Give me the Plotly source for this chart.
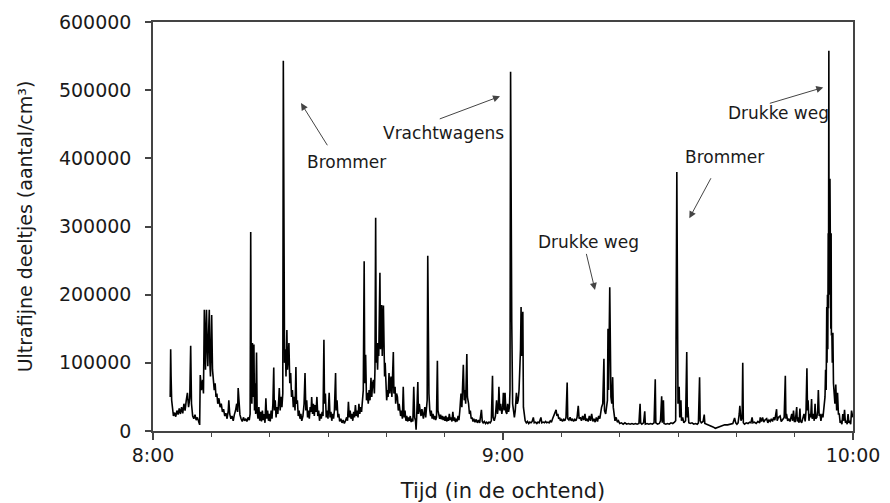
import plotly.graph_objects as go

# Ultrafine particle counts (thousands / cm3) by minute after 8:00, per 10-minute window
seg_0800 = [(2.95, 50), (3.03, 120), (3.1, 80), (3.2, 45), (3.35, 25), (3.5, 22), (3.7, 27), (3.9, 21),
            (4.1, 30), (4.3, 24), (4.5, 33), (4.7, 25), (4.9, 35), (5.1, 26), (5.3, 40), (5.5, 30),
            (5.7, 45), (5.9, 56), (6.1, 35), (6.3, 48), (6.46, 125), (6.6, 40), (6.8, 22), (7.0, 18),
            (7.2, 24), (7.4, 16), (7.6, 20), (7.8, 14), (8.0, 9), (8.1, 82), (8.3, 60), (8.5, 75),
            (8.65, 55), (8.8, 178), (8.9, 134), (9.0, 90), (9.1, 150), (9.17, 178), (9.3, 120),
            (9.4, 95), (9.5, 134), (9.65, 178), (9.75, 100), (9.85, 80), (9.95, 120)]
seg_0810 = [(10.06, 170), (10.2, 90), (10.35, 75), (10.5, 60), (10.65, 70), (10.8, 50), (10.95, 55),
            (11.1, 40), (11.3, 48), (11.5, 35), (11.7, 40), (11.9, 28), (12.1, 32), (12.3, 22),
            (12.5, 26), (12.7, 18), (12.9, 30), (13.0, 45), (13.15, 25), (13.35, 18), (13.55, 22),
            (13.75, 15), (13.95, 24), (14.15, 30), (14.35, 40), (14.5, 28), (14.6, 63), (14.75, 35),
            (14.9, 24), (15.1, 18), (15.3, 14), (15.5, 20), (15.7, 15), (15.9, 18), (16.1, 14),
            (16.3, 20), (16.5, 16), (16.65, 25), (16.75, 292), (16.85, 60), (16.95, 40), (17.05, 129),
            (17.15, 50), (17.3, 127), (17.4, 30), (17.5, 70), (17.6, 25), (17.75, 115), (17.85, 30),
            (18.0, 18), (18.15, 35), (18.3, 15), (18.45, 28), (18.6, 14), (18.75, 30), (18.9, 16),
            (19.05, 25), (19.2, 12), (19.35, 48), (19.5, 18), (19.65, 30), (19.8, 15), (19.95, 25)]
seg_0820 = [(20.1, 14), (20.25, 30), (20.4, 18), (20.55, 40), (20.7, 93), (20.8, 30), (20.95, 45),
            (21.1, 20), (21.25, 35), (21.4, 25), (21.55, 45), (21.65, 63), (21.8, 30), (21.95, 50),
            (22.1, 35), (22.25, 55), (22.34, 543), (22.42, 141), (22.55, 100), (22.7, 120), (22.8, 80),
            (22.95, 148), (23.05, 90), (23.2, 110), (23.3, 129), (23.45, 70), (23.6, 85), (23.75, 50),
            (23.9, 60), (24.05, 35), (24.2, 50), (24.35, 30), (24.5, 94), (24.6, 40), (24.75, 45),
            (24.9, 22), (25.05, 30), (25.2, 18), (25.35, 25), (25.5, 15), (25.7, 22), (25.9, 40),
            (26.06, 85), (26.2, 30), (26.35, 45), (26.5, 20), (26.65, 30), (26.8, 18), (26.95, 35),
            (27.1, 28), (27.2, 50), (27.35, 25), (27.5, 40), (27.65, 22), (27.8, 38), (27.95, 28),
            (28.1, 50), (28.25, 22), (28.4, 30), (28.55, 15), (28.7, 25), (28.85, 18), (29.0, 28),
            (29.15, 22), (29.3, 134), (29.4, 40), (29.55, 55), (29.7, 20), (29.85, 30)]
seg_0830 = [(30.0, 18), (30.2, 56), (30.35, 20), (30.5, 28), (30.65, 15), (30.8, 25), (30.95, 18),
            (31.1, 30), (31.3, 85), (31.4, 30), (31.55, 45), (31.7, 20), (31.85, 25), (32.0, 14),
            (32.2, 18), (32.4, 12), (32.6, 16), (32.8, 11), (33.0, 15), (33.2, 20), (33.35, 15),
            (33.5, 43), (33.65, 20), (33.8, 30), (33.95, 18), (34.1, 25), (34.25, 15), (34.4, 28),
            (34.55, 20), (34.7, 38), (34.85, 22), (35.0, 30), (35.15, 20), (35.3, 40), (35.45, 25),
            (35.6, 35), (35.75, 28), (35.9, 45), (36.05, 60), (36.2, 249), (36.3, 70), (36.45, 112),
            (36.6, 45), (36.75, 56), (36.9, 40), (37.05, 60), (37.2, 45), (37.37, 78), (37.5, 50),
            (37.65, 70), (37.8, 75), (37.95, 55), (38.05, 90), (38.17, 313), (38.27, 100), (38.35, 129),
            (38.5, 90), (38.6, 129), (38.7, 110), (38.9, 232), (39.0, 120), (39.1, 150), (39.2, 185),
            (39.3, 110), (39.4, 160), (39.5, 184), (39.6, 130), (39.7, 80), (39.8, 100), (39.9, 60)]
seg_0840 = [(40.06, 45), (40.2, 60), (40.3, 50), (40.46, 85), (40.6, 55), (40.7, 70), (40.8, 80),
            (40.95, 50), (41.05, 70), (41.2, 116), (41.3, 55), (41.5, 65), (41.6, 40), (41.75, 55),
            (41.9, 50), (42.05, 30), (42.2, 40), (42.3, 35), (42.45, 22), (42.6, 30), (42.75, 18),
            (42.9, 65), (43.05, 20), (43.2, 30), (43.35, 15), (43.5, 22), (43.65, 14), (43.8, 20),
            (43.95, 15), (44.1, 22), (44.25, 13), (44.4, 18), (44.55, 14), (44.7, 65), (44.85, 20),
            (45.0, 15), (45.1, 2), (45.2, 20), (45.4, 72), (45.5, 25), (45.65, 40), (45.8, 30),
            (45.95, 22), (46.1, 32), (46.2, 25), (46.35, 18), (46.5, 28), (46.6, 35), (46.75, 20),
            (46.9, 30), (47.0, 45), (47.1, 257), (47.2, 70), (47.3, 55), (47.45, 30), (47.6, 22),
            (47.7, 30), (47.85, 18), (48.0, 25), (48.15, 17), (48.3, 22), (48.45, 16), (48.6, 20),
            (48.75, 103), (48.85, 30), (49.0, 25), (49.15, 18), (49.3, 24), (49.45, 17), (49.6, 22),
            (49.75, 16), (49.9, 21)]
seg_0850 = [(50.05, 15), (50.2, 22), (50.35, 14), (50.5, 20), (50.65, 15), (50.8, 25), (50.95, 16),
            (51.1, 20), (51.25, 14), (51.4, 28), (51.55, 15), (51.7, 20), (51.85, 13), (52.0, 18),
            (52.15, 14), (52.3, 22), (52.45, 16), (52.6, 30), (52.8, 55), (52.95, 35), (53.1, 70),
            (53.2, 97), (53.35, 45), (53.5, 60), (53.6, 40), (53.8, 113), (53.9, 50), (54.1, 40),
            (54.25, 25), (54.4, 30), (54.55, 18), (54.7, 20), (54.85, 14), (55.0, 18), (55.2, 13),
            (55.4, 17), (55.6, 12), (55.8, 16), (56.0, 12), (56.15, 20), (56.3, 31), (56.45, 14),
            (56.6, 12), (56.8, 14), (57.0, 11), (57.2, 13), (57.4, 11), (57.6, 13), (57.8, 12),
            (58.0, 15), (58.2, 81), (58.3, 20), (58.5, 15), (58.7, 22), (58.9, 45), (59.05, 25),
            (59.2, 35), (59.3, 65), (59.45, 30), (59.6, 40), (59.8, 25), (59.95, 35)]
seg_0900 = [(60.06, 56), (60.2, 30), (60.35, 56), (60.5, 28), (60.65, 25), (60.8, 40), (60.95, 28),
            (61.1, 35), (61.2, 60), (61.3, 527), (61.4, 218), (61.5, 160), (61.65, 40), (61.8, 25),
            (61.95, 20), (62.1, 30), (62.3, 56), (62.45, 40), (62.6, 45), (62.75, 60), (62.9, 100),
            (63.0, 120), (63.1, 182), (63.2, 110), (63.3, 140), (63.4, 175), (63.5, 35), (63.65, 20),
            (63.8, 15), (64.0, 12), (64.2, 14), (64.4, 11), (64.6, 13), (64.8, 12), (65.0, 14),
            (65.2, 20), (65.35, 12), (65.6, 13), (65.8, 11), (66.0, 13), (66.2, 12), (66.5, 20),
            (66.65, 12), (66.9, 13), (67.1, 12), (67.3, 14), (67.5, 12), (67.7, 13), (67.9, 12),
            (68.1, 15), (68.3, 13), (68.5, 18), (68.7, 22), (68.9, 25), (69.1, 31), (69.25, 22),
            (69.4, 25), (69.55, 18), (69.7, 20), (69.85, 15)]
seg_0910 = [(70.0, 18), (70.2, 14), (70.4, 17), (70.6, 15), (70.8, 20), (71.0, 71), (71.1, 18),
            (71.3, 16), (71.5, 20), (71.7, 15), (71.9, 18), (72.1, 14), (72.3, 17), (72.5, 15),
            (72.7, 20), (72.9, 37), (73.05, 18), (73.25, 20), (73.45, 15), (73.65, 22), (73.85, 16),
            (74.05, 25), (74.2, 15), (74.4, 18), (74.6, 14), (74.8, 22), (75.0, 15), (75.2, 25),
            (75.4, 14), (75.6, 18), (75.8, 13), (76.0, 20), (76.2, 14), (76.4, 22), (76.6, 18),
            (76.9, 35), (77.1, 40), (77.3, 106), (77.4, 30), (77.6, 25), (77.75, 35), (77.9, 45),
            (78.0, 150), (78.1, 60), (78.3, 211), (78.4, 80), (78.5, 50), (78.65, 40), (78.8, 79),
            (78.9, 35), (79.0, 25), (79.2, 15), (79.4, 20), (79.6, 13), (79.8, 15)]
seg_0920 = [(80.0, 11), (80.3, 12), (80.6, 10), (80.9, 12), (81.2, 10), (81.5, 11), (81.8, 10),
            (82.1, 11), (82.4, 10), (82.7, 11), (83.0, 10), (83.3, 11), (83.5, 40), (83.6, 12),
            (83.8, 10), (84.1, 12), (84.3, 29), (84.4, 10), (84.7, 11), (85.0, 10), (85.3, 11),
            (85.6, 10), (85.9, 12), (86.1, 76), (86.2, 12), (86.5, 10), (86.8, 11), (87.0, 15),
            (87.2, 51), (87.3, 12), (87.5, 45), (87.6, 11), (87.9, 10), (88.2, 11), (88.5, 10),
            (88.8, 12), (89.1, 11), (89.4, 13), (89.6, 15), (89.8, 380), (89.9, 107)]
seg_0930 = [(90.0, 40), (90.2, 65), (90.3, 20), (90.5, 45), (90.6, 15), (90.8, 20), (91.0, 12),
            (91.3, 15), (91.5, 116), (91.6, 20), (91.7, 35), (91.85, 12), (92.1, 11), (92.4, 12),
            (92.7, 10), (93.0, 11), (93.3, 10), (93.5, 12), (93.7, 79), (93.8, 15), (94.0, 12),
            (94.3, 14), (94.5, 24), (94.6, 11), (94.9, 10), (95.2, 9), (95.6, 8), (96.0, 6),
            (96.4, 4), (96.8, 5), (97.2, 7), (97.6, 8), (98.0, 9), (98.5, 9), (99.0, 10), (99.4, 11),
            (99.7, 19), (99.9, 12)]
seg_0940 = [(100.1, 10), (100.3, 12), (100.5, 25), (100.6, 37), (100.8, 15), (101.0, 20), (101.1, 100),
            (101.2, 12), (101.4, 10), (101.7, 12), (102.0, 11), (102.3, 13), (102.5, 12), (102.7, 20),
            (102.85, 12), (103.1, 13), (103.4, 11), (103.7, 14), (104.0, 12), (104.1, 20), (104.3, 14),
            (104.5, 20), (104.7, 13), (104.9, 16), (105.2, 18), (105.4, 12), (105.6, 16), (105.8, 14),
            (106.0, 18), (106.2, 14), (106.4, 20), (106.6, 16), (106.9, 32), (107.0, 15), (107.2, 20),
            (107.5, 22), (107.7, 14), (107.9, 16), (108.2, 20), (108.4, 81), (108.5, 18), (108.6, 25),
            (108.8, 15), (109.0, 18), (109.2, 14), (109.5, 25), (109.65, 15), (109.8, 30), (109.95, 14)]
seg_0950 = [(110.1, 14), (110.35, 35), (110.45, 14), (110.6, 20), (110.75, 12), (110.9, 33), (111.0, 15),
            (111.2, 12), (111.4, 18), (111.6, 25), (111.8, 14), (111.95, 30), (112.1, 92), (112.2, 30),
            (112.3, 45), (112.45, 15), (112.6, 25), (112.75, 20), (112.9, 47), (113.0, 18), (113.2, 25),
            (113.35, 15), (113.5, 40), (113.6, 18), (113.8, 20), (113.95, 30), (114.06, 60), (114.2, 22),
            (114.35, 25), (114.5, 15), (114.7, 25), (114.85, 20), (115.0, 35), (115.2, 50), (115.3, 90),
            (115.4, 60), (115.5, 182), (115.55, 100), (115.62, 200), (115.68, 120), (115.75, 290),
            (115.8, 180), (115.86, 558), (115.9, 200), (115.95, 388), (116.0, 250), (116.05, 370),
            (116.1, 200), (116.15, 291), (116.2, 150), (116.25, 290), (116.3, 140), (116.38, 144),
            (116.45, 100), (116.55, 144), (116.65, 70), (116.75, 56), (116.9, 40), (117.05, 68),
            (117.2, 30), (117.35, 56), (117.5, 25), (117.65, 25), (117.8, 12), (117.95, 15),
            (118.1, 10), (118.25, 25), (118.4, 15), (118.55, 31), (118.7, 12), (118.85, 15),
            (119.0, 10), (119.15, 25), (119.3, 12), (119.45, 15), (119.6, 10), (119.75, 30), (119.95, 20)]

segments = [seg_0800, seg_0810, seg_0820, seg_0830, seg_0840, seg_0850,
            seg_0900, seg_0910, seg_0920, seg_0930, seg_0940, seg_0950]

y_ticks = [0, 100000, 200000, 300000, 400000, 500000, 600000]
x_ticks = [0, 60, 120]
x_tick_labels = ["8:00", "9:00", "10:00"]
x_minor_ticks = [10, 20, 30, 40, 50, 70, 80, 90, 100, 110]

# annotation labels and arrows (minutes, thousands / cm3)
labels = ["Brommer", "Vrachtwagens", "Drukke weg", "Brommer", "Drukke weg"]
label_pos = [(33.1, 395), (49.8, 437), (74.6, 277), (98.0, 402), (107.3, 467)]
arrow_tail = [(30.05, 417), (48.9, 457), (74.23, 262), (95.78, 373), (105.48, 480)]
arrow_head = [(25.37, 481), (59.49, 491), (75.77, 207), (91.94, 312), (114.9, 504)]

minutes = [p[0] for seg in segments for p in seg]
counts = [p[1] * 1000 for seg in segments for p in seg]

FONT = "DejaVu Sans"
AX = "#444444"
TXT = "#1a1a1a"

fig = go.Figure()
fig.add_trace(go.Scatter(x=minutes, y=counts, mode="lines",
                         line=dict(color="black", width=1.6), hoverinfo="skip"))

for txt, (tx, ty) in zip(labels, label_pos):
    fig.add_annotation(x=tx, y=ty * 1000, text=txt, showarrow=False,
                       font=dict(family=FONT, size=17, color=TXT))
for (ax_, ay_), (hx, hy) in zip(arrow_tail, arrow_head):
    fig.add_annotation(x=hx, y=hy * 1000, ax=ax_, ay=ay_ * 1000, axref="x", ayref="y",
                       text="", showarrow=True, arrowhead=2, arrowsize=1.4,
                       arrowwidth=1, arrowcolor="#444444")

fig.update_layout(
    width=890, height=503,
    margin=dict(l=153, r=37, t=22, b=72),
    paper_bgcolor="white", plot_bgcolor="white",
    showlegend=False,
    font=dict(family=FONT, color=TXT),
)
fig.update_xaxes(
    range=[0, 120], tickvals=x_ticks, ticktext=x_tick_labels, automargin=False,
    ticks="outside", ticklen=7, tickwidth=1.5, tickcolor=AX,
    minor=dict(tickvals=x_minor_ticks, ticks="outside", ticklen=4, tickwidth=1, tickcolor=AX),
    showline=True, linecolor=AX, linewidth=1.5, mirror=True,
    showgrid=False, zeroline=False,
    tickfont=dict(family=FONT, size=19, color=TXT),
    ticklabelstandoff=-1,
    title=dict(text="Tijd (in de ochtend)", font=dict(family=FONT, size=21, color=TXT), standoff=20),
)
fig.update_yaxes(
    range=[0, 600000], tickvals=y_ticks, tickformat="d", automargin=False,
    ticks="outside", ticklen=6, tickwidth=1.5, tickcolor=AX,
    showline=True, linecolor=AX, linewidth=1.5, mirror=True,
    showgrid=False, zeroline=False,
    tickfont=dict(family=FONT, size=19, color=TXT),
    ticklabelstandoff=10,
    title=dict(text="Ultrafijne deeltjes (aantal/cm³)", font=dict(family=FONT, size=19, color=TXT), standoff=21),
)

fig.write_html("out.html", post_script="document.body.style.margin='0';",
               config={"displayModeBar": False})
